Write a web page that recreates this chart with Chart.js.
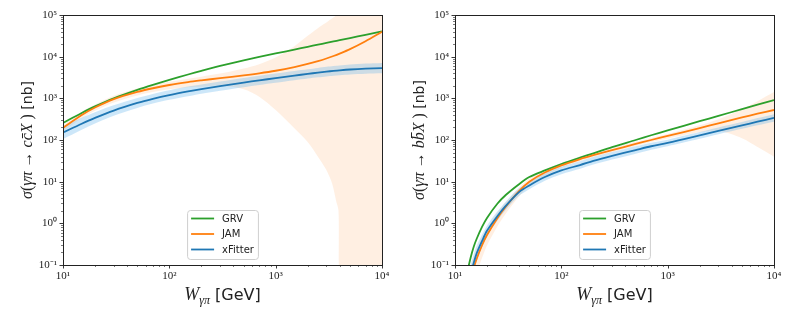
<!DOCTYPE html>
<html>
<head>
<meta charset="utf-8">
<script src="https://cdn.jsdelivr.net/npm/chart.js@4.4.1/dist/chart.umd.min.js"></script>
<style>
html, body { margin: 0; padding: 0; background: #fff; }
#wrap { position: relative; width: 793px; height: 317px; }
canvas { position: absolute; top: 0; }
</style>
</head>
<body>
<div id="wrap">
  <canvas id="ccbar" width="396" height="317" style="left:0"></canvas>
  <canvas id="bbbar" width="397" height="317" style="left:396px"></canvas>
</div>
<script>
// ---- data (sigma in nb, W in GeV) ----
const seriesNames = ['GRV', 'JAM', 'xFitter'];
const xMajor = [10, 100, 1000, 10000];
const yMajor = [0.1, 1, 10, 100, 1000, 10000, 100000];

// left panel: c cbar
const ccW      = [10, 15, 20, 30, 50, 70, 100, 150, 200, 300, 500, 700, 1000, 1500, 2000, 2500, 3000, 3500, 4000, 5000, 7000, 10000];
const ccGRV    = [257, 446, 641, 1002, 1603, 2113, 2780, 3733, 4571, 5998, 8147, 9840, 11940, 14790, 17260, 19410, 21380, 23170, 24890, 27990, 33500, 40460];
const ccJAM    = [195, 396, 601, 957, 1426, 1746, 2089, 2455, 2698, 3048, 3556, 3981, 4592, 5623, 6683, 7816, 9036, 10375, 11860, 15170, 23500, 39450];
const ccXF     = [151, 246, 340, 509, 774, 973, 1197, 1466, 1667, 1968, 2388, 2698, 3055, 3508, 3855, 4140, 4375, 4560, 4710, 4920, 5150, 5310];
const ccXFhi   = [218, 343, 464, 679, 1020, 1268, 1560, 1910, 2147, 2535, 3076, 3475, 3935, 4518, 4965, 5357, 5701, 5969, 6180, 6485, 6819, 7084];
const ccXFlo   = [105, 176, 249, 382, 587, 747, 919, 1125, 1294, 1528, 1854, 2095, 2372, 2724, 2993, 3199, 3358, 3484, 3590, 3733, 3890, 3981];
const ccBandW  = [10, 15, 20, 30, 50, 70, 100, 150, 200, 300, 500, 700, 1000, 1500, 2000, 2600, 3000, 3400, 3700, 3900, 4000, 5000, 10000];
const ccJAMhi  = [224, 468, 708, 1148, 1714, 2089, 2512, 2951, 3311, 3926, 5200, 6607, 9550, 17780, 31620, 52480, 66070, 83180, 97720, 107150, 112200, 158500, 631000];
const ccJAMlo  = [162, 331, 501, 794, 1175, 1413, 1641, 1841, 1905, 1995, 1660, 1096, 525, 191, 89, 34, 19, 8.9, 3.5, 2.0, 0.032, 0.001, 0.001];

// right panel: b bbar
const bbW      = [13, 14, 15, 16, 18, 20, 25, 30, 40, 50, 70, 100, 150, 200, 300, 500, 700, 1000, 2000, 3000, 5000, 7000, 10000];
const bbGRV    = [0.0646, 0.148, 0.275, 0.427, 0.832, 1.35, 2.95, 4.79, 8.71, 12.9, 18.6, 26.5, 37.8, 47.9, 67.6, 100, 130, 170, 282, 380, 550, 703, 912];
const bbJAM    = [0.0229, 0.0468, 0.0851, 0.141, 0.302, 0.525, 1.33, 2.51, 5.96, 10.0, 16.6, 24.5, 34.7, 43.1, 57.1, 80.4, 100, 125, 193, 251, 347, 427, 525];
const bbXF     = [0.0295, 0.0603, 0.112, 0.191, 0.380, 0.661, 1.48, 2.63, 5.62, 8.13, 12.9, 18.6, 25.1, 31.6, 41.7, 57.5, 70.8, 85.1, 129, 166, 224, 275, 339];
const bbXFhi   = [0.0525, 0.1, 0.178, 0.288, 0.537, 0.891, 1.91, 3.31, 6.92, 10.0, 15.8, 22.9, 30.9, 38.9, 51.3, 70.8, 86.1, 102, 155, 200, 269, 335, 417];
const bbXFlo   = [0.0166, 0.0363, 0.0708, 0.126, 0.269, 0.49, 1.15, 2.09, 4.57, 6.61, 10.5, 15.1, 20.4, 25.7, 33.9, 46.8, 58.2, 70.8, 107, 138, 186, 226, 275];
const bbJAMhi  = [0.0457, 0.0891, 0.151, 0.234, 0.457, 0.741, 1.76, 3.16, 7.16, 11.7, 19.1, 27.5, 38.9, 48.3, 64.1, 90.2, 112, 140, 227, 316, 550, 851, 1413];
const bbJAMlo  = [0.00575, 0.0148, 0.0324, 0.0617, 0.151, 0.295, 0.841, 1.70, 4.42, 7.94, 13.8, 21.4, 30.9, 38.4, 50.9, 71.6, 89.1, 109, 153, 166, 110, 67.6, 39.8];

const green = '#2ca02c', orange = '#ff7f0e', blue = '#1f77b4';
const orangeBand = 'rgba(255,127,14,0.12)';
const blueBand = 'rgba(100,180,235,0.32)';
const ink = '#222';

// ---- helpers ----
const sup = {'0':'⁰','1':'¹','2':'²','3':'³','4':'⁴','5':'⁵','6':'⁶','7':'⁷','8':'⁸','9':'⁹','-':'⁻'};
function isMajor(v) {
    const l = Math.log10(v);
    return Math.abs(l - Math.round(l)) < 1e-6;
}
function powLabel(v) {
    if (!isMajor(v)) return '';
    const e = Math.round(Math.log10(v));
    return '10' + String(e).split('').map(c => sup[c]).join('');
}
function withMinors(majors) {
    let out = [];
    majors.forEach((m, i) => {
        out.push(m);
        if (i < majors.length - 1) for (let k = 2; k <= 9; k++) out.push(m * k);
    });
    return out;
}

function lineSet(label, xs, ys, color, order) {
    return {
        label: label, inLegend: true,
        data: xs.map((x, i) => ({x: x, y: ys[i]})),
        borderColor: color, backgroundColor: color,
        borderWidth: 1.8, pointRadius: 0, fill: false, order: order,
        tension: 0.3
    };
}
function bandSets(xs, lo, hi, color, order) {
    return [{
        label: 'hi', data: xs.map((x, i) => ({x: x, y: hi[i]})),
        borderWidth: 0, borderColor: 'transparent', pointRadius: 0, fill: false, order: order,
        tension: 0.3
    }, {
        label: 'lo', data: xs.map((x, i) => ({x: x, y: lo[i]})),
        borderWidth: 0, borderColor: 'transparent', backgroundColor: color,
        pointRadius: 0, fill: '-1', order: order,
        tension: 0.3
    }];
}

function partsWidth(ctx, parts) {
    let w = 0;
    parts.forEach(p => { ctx.font = p.font; w += ctx.measureText(p.text).width; });
    return w;
}
function drawParts(ctx, parts, x, y) {
    parts.forEach(p => {
        ctx.font = p.font;
        const w = ctx.measureText(p.text).width;
        ctx.fillText(p.text, x, y + (p.dy || 0));
        if (p.bar) ctx.fillRect(x + w * 0.3, y - p.bar, w * 0.7, 1);
        x += w;
    });
}

// frame, ticks, titles, legend
const decor = {
    id: 'decor',
    afterDraw(chart, args, opts) {
        const {ctx, chartArea: a, scales: {x, y}} = chart;
        ctx.save();
        ctx.strokeStyle = ink;
        ctx.fillStyle = ink;
        // tick marks
        x.ticks.forEach(t => {
            const px = Math.round(x.getPixelForValue(t.value)) + 0.5;
            const len = isMajor(t.value) ? 3.5 : 2;
            ctx.lineWidth = isMajor(t.value) ? 0.9 : 0.6;
            ctx.beginPath(); ctx.moveTo(px, a.bottom); ctx.lineTo(px, a.bottom + len); ctx.stroke();
        });
        y.ticks.forEach(t => {
            const py = Math.round(y.getPixelForValue(t.value)) + 0.5;
            const len = isMajor(t.value) ? 3.5 : 2;
            ctx.lineWidth = isMajor(t.value) ? 0.9 : 0.6;
            ctx.beginPath(); ctx.moveTo(a.left, py); ctx.lineTo(a.left - len, py); ctx.stroke();
        });
        ctx.lineWidth = 1;
        ctx.strokeRect(Math.round(a.left) + 0.5, Math.round(a.top) + 0.5,
                       Math.round(a.right - a.left), Math.round(a.bottom - a.top));

        // axis titles
        ctx.textBaseline = 'alphabetic';
        ctx.textAlign = 'left';
        const xw = partsWidth(ctx, opts.xTitle);
        drawParts(ctx, opts.xTitle, (a.left + a.right) / 2 - xw / 2, opts.xBase);
        ctx.save();
        ctx.translate(opts.yBase, (a.top + a.bottom) / 2);
        ctx.rotate(-Math.PI / 2);
        const yw = partsWidth(ctx, opts.yTitle);
        drawParts(ctx, opts.yTitle, -yw / 2, 0);
        ctx.restore();

        // legend inside, lower centre
        const items = chart.data.datasets.filter(d => d.inLegend);
        ctx.font = '10px "DejaVu Sans"';
        const rowH = 15.5, lineW = 23;
        const textW = Math.max(...items.map(d => ctx.measureText(d.label).width));
        const w = 4 + lineW + 8 + textW + 4;
        const h = items.length * rowH + 2.5;
        const bx = (a.left + a.right) / 2 - w / 2, by = a.bottom - 6 - h;
        ctx.beginPath();
        ctx.roundRect(bx + 0.5, by + 0.5, w, h, 3);
        ctx.fillStyle = 'rgba(255,255,255,0.85)';
        ctx.fill();
        ctx.strokeStyle = '#cfcfcf';
        ctx.lineWidth = 1;
        ctx.stroke();
        ctx.textBaseline = 'middle';
        items.forEach((d, i) => {
            const cy = by + 8.5 + i * rowH;
            ctx.strokeStyle = d.borderColor;
            ctx.lineWidth = 1.8;
            ctx.beginPath(); ctx.moveTo(bx + 4, cy); ctx.lineTo(bx + 4 + lineW, cy); ctx.stroke();
            ctx.fillStyle = ink;
            ctx.fillText(d.label, bx + 4 + lineW + 8, cy + 0.5);
        });
        ctx.restore();
    }
};

function makeChart(id, datasets, padRight, yWidth, yTitle, yBase) {
    const ctx = document.getElementById(id).getContext('2d');
    const tickFont = {family: '"Liberation Serif", serif', size: 11};
    return new Chart(ctx, {
        type: 'line',
        data: {datasets: datasets},
        options: {
            responsive: false,
            devicePixelRatio: 1,
            animation: false,
            events: [],
            layout: {padding: {top: 15, right: padRight, bottom: 0, left: 0}},
            scales: {
                x: {
                    type: 'logarithmic', min: 10, max: 10000,
                    afterBuildTicks: s => { s.ticks = withMinors(xMajor).map(v => ({value: v})); },
                    afterFit: s => { s.height = 52; },
                    grid: {display: false, drawTicks: false},
                    border: {display: false},
                    ticks: {autoSkip: false, maxRotation: 0, padding: 5, color: ink, font: tickFont,
                            callback: v => powLabel(v)}
                },
                y: {
                    type: 'logarithmic', min: 0.1, max: 100000,
                    afterBuildTicks: s => { s.ticks = withMinors(yMajor).map(v => ({value: v})); },
                    afterFit: s => { s.width = yWidth; },
                    grid: {display: false, drawTicks: false},
                    border: {display: false},
                    ticks: {autoSkip: false, padding: 6, color: ink, font: tickFont,
                            callback: v => powLabel(v)}
                }
            },
            plugins: {
                legend: {display: false},
                tooltip: {enabled: false},
                filler: {propagate: false},
                decor: {
                    xBase: 300,
                    yBase: yBase,
                    xTitle: [
                        {text: 'W', font: 'italic 18px "Liberation Serif"'},
                        {text: 'γπ', font: 'italic 12px "Liberation Serif"', dy: 4},
                        {text: ' [GeV]', font: '16px "DejaVu Sans"'}
                    ],
                    yTitle: yTitle
                }
            }
        },
        plugins: [decor]
    });
}

function sigmaTitle(q) {
    const it = 'italic 16px "Liberation Serif"', up = '16px "Liberation Serif"';
    return [
        {text: 'σ', font: it},
        {text: '(', font: up},
        {text: 'γπ', font: it},
        {text: ' → ', font: up},
        {text: q, font: it},
        {text: q, font: it, bar: q === 'b' ? 13 : 10},
        {text: 'X', font: it},
        {text: ' )', font: up},
        {text: ' [nb]', font: '14px "DejaVu Sans"'}
    ];
}

makeChart('ccbar', [
    lineSet(seriesNames[0], ccW, ccGRV, green, 3),
    lineSet(seriesNames[1], ccW, ccJAM, orange, 2),
    lineSet(seriesNames[2], ccW, ccXF, blue, 1),
    ...bandSets(ccBandW, ccJAMlo, ccJAMhi, orangeBand, 20),
    ...bandSets(ccW, ccXFlo, ccXFhi, blueBand, 10)
], 14, 63, sigmaTitle('c'), 32);

makeChart('bbbar', [
    lineSet(seriesNames[0], bbW, bbGRV, green, 3),
    lineSet(seriesNames[1], bbW, bbJAM, orange, 2),
    lineSet(seriesNames[2], bbW, bbXF, blue, 1),
    ...bandSets(bbW, bbJAMlo, bbJAMhi, orangeBand, 20),
    ...bandSets(bbW, bbXFlo, bbXFhi, blueBand, 10)
], 19, 59, sigmaTitle('b'), 28);
</script>
</body>
</html>
